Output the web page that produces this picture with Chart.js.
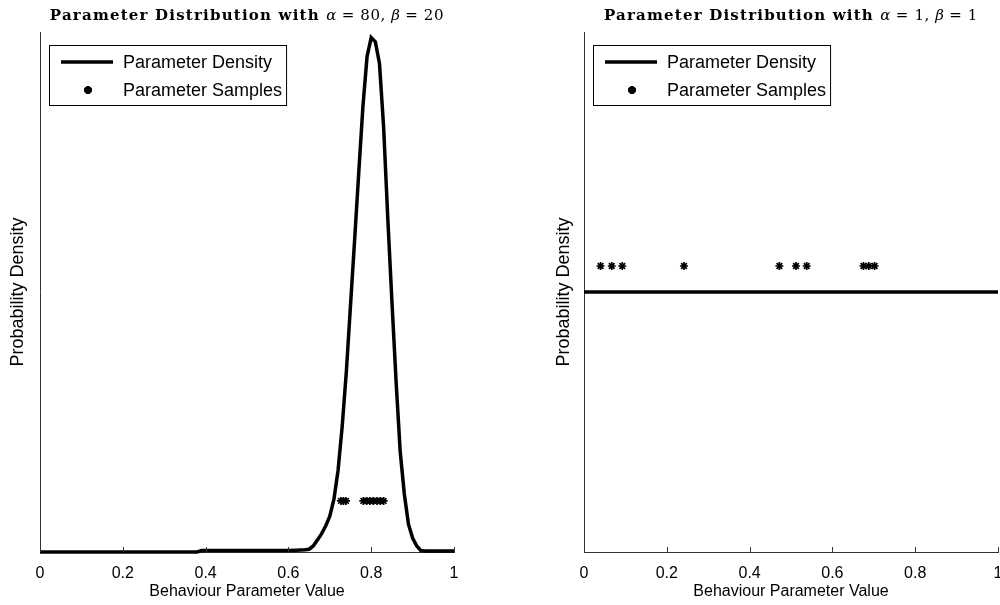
<!DOCTYPE html>
<html>
<head>
<meta charset="utf-8">
<script src="https://cdn.jsdelivr.net/npm/chart.js@4.4.0/dist/chart.umd.min.js"></script>
<style>
  html, body { margin: 0; padding: 0; background: #fff; }
  .wrap { position: absolute; top: 0; width: 500px; height: 605px; }
</style>
</head>
<body>
<div class="wrap" style="left:0"><canvas id="left" width="500" height="605"></canvas></div>
<div class="wrap" style="left:500px"><canvas id="right" width="500" height="605"></canvas></div>
<script>
// left panel, alpha = 80, beta = 20
const densityXA = [0, 0.38, 0.39, 0.60, 0.62, 0.64, 0.65, 0.66, 0.67, 0.68, 0.69, 0.70,
  0.71, 0.72, 0.73, 0.74, 0.75, 0.76, 0.77, 0.78, 0.79, 0.80, 0.81, 0.82, 0.83, 0.84,
  0.85, 0.86, 0.87, 0.88, 0.89, 0.90, 0.91, 0.92, 0.93, 1.00];
const densityYA = [0, 0, 0.03, 0.03, 0.04, 0.05, 0.06, 0.13, 0.26, 0.39, 0.56, 0.77,
  1.14, 1.76, 2.71, 3.89, 5.31, 6.73, 8.18, 9.60, 10.67, 11.08, 10.99, 10.52, 9.15, 7.2,
  5.41, 3.69, 2.17, 1.25, 0.60, 0.30, 0.13, 0.03, 0.02, 0.02];
const samplesA = [0.727, 0.733, 0.739, 0.781, 0.789, 0.797, 0.805, 0.814, 0.822, 0.830];

// right panel, alpha = 1, beta = 1
const densityXB = [0, 1];
const densityYB = [1, 1];
const samplesB = [0.040, 0.067, 0.0925, 0.2415, 0.472, 0.512, 0.538, 0.675, 0.688, 0.702];

const sampleLevel = 1.1;
const yMaxA = 11.2;
const yMaxB = 2;
const xTicks = [0, 0.2, 0.4, 0.6, 0.8, 1];

Chart.defaults.font.family = '"Liberation Sans", Arial, sans-serif';
Chart.defaults.font.size = 16;
Chart.defaults.color = '#000';

const axisColor = '#333';

// title with bold text and italic greek letters
const mathTitle = {
  id: 'mathTitle',
  afterDraw(chart, args, opts) {
    const ctx = chart.ctx;
    const ca = chart.chartArea;
    const fonts = {
      b: ['bold 15px "DejaVu Serif", serif', '1.2px'],
      i: ['italic 15px "DejaVu Serif", serif', '0px'],
      r: ['15px "DejaVu Serif", serif', '0.6px']
    };
    ctx.save();
    ctx.fillStyle = '#000';
    ctx.textBaseline = 'alphabetic';
    const setFont = k => { ctx.font = fonts[k][0]; ctx.letterSpacing = fonts[k][1]; };
    let total = 0;
    opts.parts.forEach(p => { setFont(p[0]); total += ctx.measureText(p[1]).width; });
    let x = (ca.left + ca.right) / 2 - total / 2;
    opts.parts.forEach(p => {
      setFont(p[0]);
      ctx.fillText(p[1], x, 20);
      x += ctx.measureText(p[1]).width;
    });
    ctx.restore();
  }
};

// legend box drawn inside the plot area
const innerLegend = {
  id: 'innerLegend',
  afterDraw(chart) {
    const ctx = chart.ctx;
    const ca = chart.chartArea;
    const ds = chart.data.datasets;
    const x0 = ca.left + 9, y0 = 45;
    const textX = x0 + 74;
    ctx.save();
    ctx.font = '18px "Liberation Sans", Arial, sans-serif';
    const w = Math.max(...ds.map(d => ctx.measureText(d.label).width));
    const boxW = textX - x0 + w + 4, boxH = 60;
    ctx.fillStyle = '#fff';
    ctx.fillRect(x0, y0, boxW, boxH);
    ctx.strokeStyle = '#000';
    ctx.lineWidth = 1;
    ctx.strokeRect(x0 + 0.5, y0 + 0.5, boxW, boxH);

    ctx.strokeStyle = '#000';
    ctx.lineWidth = 3.5;
    ctx.beginPath();
    ctx.moveTo(x0 + 12, y0 + 17);
    ctx.lineTo(x0 + 64, y0 + 17);
    ctx.stroke();
    Chart.helpers.drawPoint(ctx, {pointStyle: 'star', radius: 4, borderWidth: 1.7}, x0 + 39, y0 + 45);

    ctx.fillStyle = '#000';
    ctx.textBaseline = 'middle';
    ctx.fillText(ds[0].label, textX, y0 + 18);
    ctx.fillText(ds[1].label, textX, y0 + 46);
    ctx.restore();
  }
};

// small x tick marks pointing into the plot
const innerTicks = {
  id: 'innerTicks',
  afterDraw(chart) {
    const ctx = chart.ctx;
    const ca = chart.chartArea;
    ctx.save();
    ctx.strokeStyle = axisColor;
    ctx.lineWidth = 1;
    xTicks.forEach(v => {
      const x = Math.round(chart.scales.x.getPixelForValue(v)) + 0.5;
      ctx.beginPath();
      ctx.moveTo(x, ca.bottom);
      ctx.lineTo(x, ca.bottom - 5);
      ctx.stroke();
    });
    ctx.restore();
  }
};

function makeChart(id, dx, dy, samples, yMax, padLeft, padRight, yWidth, parts) {
  const ctx = document.getElementById(id).getContext('2d');
  return new Chart(ctx, {
    type: 'scatter',
    data: {
      datasets: [{
        label: 'Parameter Density',
        data: dx.map((x, i) => ({x: x, y: dy[i]})),
        showLine: true,
        borderColor: '#000',
        borderWidth: 3.5,
        pointRadius: 0,
        clip: false
      }, {
        label: 'Parameter Samples',
        data: samples.map(x => ({x: x, y: sampleLevel})),
        pointStyle: 'star',
        pointRadius: 4,
        borderWidth: 1.7,
        borderColor: '#000',
        backgroundColor: '#000'
      }]
    },
    options: {
      responsive: false,
      animation: false,
      layout: {autoPadding: false, padding: {left: padLeft, right: padRight, top: 32, bottom: 0}},
      plugins: {
        legend: {display: false},
        tooltip: {enabled: false},
        mathTitle: {parts: parts}
      },
      scales: {
        x: {
          type: 'linear',
          min: 0,
          max: 1,
          afterBuildTicks: s => { s.ticks = xTicks.map(v => ({value: v})); },
          ticks: {padding: 12, maxRotation: 0, autoSkip: false, callback: v => String(v)},
          grid: {display: false, drawTicks: false},
          border: {display: true, color: axisColor, width: 1},
          title: {display: true, text: 'Behaviour Parameter Value', padding: {top: 4, bottom: 4}},
          afterFit: s => { s.height = 53; s.paddingLeft = 0; s.paddingRight = 0; }
        },
        y: {
          min: 0,
          max: yMax,
          ticks: {display: false},
          grid: {display: false, drawTicks: false},
          border: {display: true, color: axisColor, width: 1},
          title: {display: true, text: 'Probability Density', font: {size: 18}, padding: {top: 7, bottom: 0}},
          afterFit: s => { s.width = yWidth; }
        }
      }
    },
    plugins: [mathTitle, innerTicks, innerLegend]
  });
}

makeChart('left', densityXA, densityYA, samplesA, yMaxA, 0, 46, 40,
  [['b', 'Parameter Distribution with '], ['i', 'α'], ['r', ' = 80, '], ['i', 'β'], ['r', ' = 20']]);
makeChart('right', densityXB, densityYB, samplesB, yMaxB, 46, 2, 38,
  [['b', 'Parameter Distribution with '], ['i', 'α'], ['r', ' = 1, '], ['i', 'β'], ['r', ' = 1']]);
</script>
</body>
</html>
